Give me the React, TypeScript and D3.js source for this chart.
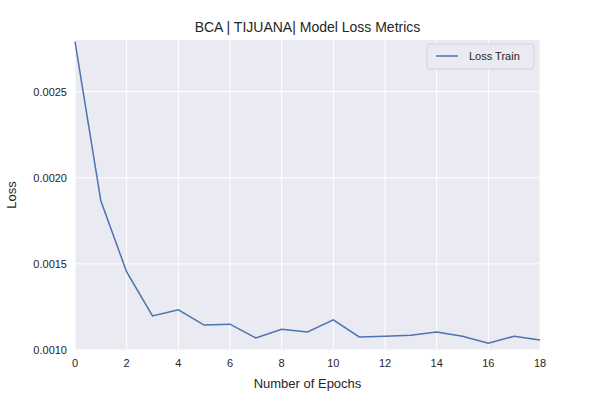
import { useEffect, useRef } from "react";
import * as d3 from "d3";

const epochs = d3.range(0, 19);
const lossTrain = [0.00279, 0.001866, 0.001453, 0.001198, 0.001233, 0.001145, 0.00115, 0.00107, 0.00112, 0.001105, 0.001175, 0.001076, 0.00108, 0.001085, 0.001105, 0.00108, 0.00104, 0.00108, 0.001058];
const xTicks = [0, 2, 4, 6, 8, 10, 12, 14, 16, 18];
const yTicks = [0.001, 0.0015, 0.002, 0.0025];

const App = () => {
  const svgRef = useRef<SVGSVGElement | null>(null);

  useEffect(() => {
    const svg = d3.select(svgRef.current);
    svg.selectAll("*").remove();
    const left = 75, right = 540, top = 40, bottom = 350;
    const font = "'Liberation Sans', Arial, sans-serif";

    const x = d3.scaleLinear().domain([0, 18]).range([left, right]);
    const y = d3.scaleLinear().domain([0.001, 0.0028]).range([bottom, top]);

    svg.append("rect").attr("width", 600).attr("height", 400).attr("fill", "#fff");
    svg.append("rect")
      .attr("x", left).attr("y", top)
      .attr("width", right - left).attr("height", bottom - top)
      .attr("fill", "#EAEAF2");

    const grid = svg.append("g").attr("stroke", "#fff").attr("stroke-width", 1);
    xTicks.forEach(t => grid.append("line").attr("x1", x(t)).attr("x2", x(t)).attr("y1", top).attr("y2", bottom));
    yTicks.forEach(t => grid.append("line").attr("x1", left).attr("x2", right).attr("y1", y(t)).attr("y2", y(t)));

    const labels = svg.append("g").style("font-family", font).style("font-size", "11px").attr("fill", "#262626");
    xTicks.forEach(t => labels.append("text").attr("x", x(t)).attr("y", bottom + 17).attr("text-anchor", "middle").text(t));
    yTicks.forEach(t => labels.append("text").attr("x", left - 8).attr("y", y(t) + 4).attr("text-anchor", "end").text(d3.format(".4f")(t)));

    const line = d3.line<number>().x((_, i) => x(epochs[i])).y(d => y(d));
    svg.append("path").datum(lossTrain)
      .attr("d", line).attr("fill", "none")
      .attr("stroke", "#4C72B0").attr("stroke-width", 1.5);

    svg.append("text").attr("x", (left + right) / 2).attr("y", 32)
      .attr("text-anchor", "middle").style("font-family", font).style("font-size", "14px").attr("fill", "#262626")
      .text("BCA | TIJUANA| Model Loss Metrics");
    svg.append("text").attr("x", (left + right) / 2).attr("y", 388)
      .attr("text-anchor", "middle").style("font-family", font).style("font-size", "13px").attr("fill", "#262626")
      .text("Number of Epochs");
    svg.append("text").attr("transform", `translate(16,${(top + bottom) / 2}) rotate(-90)`)
      .attr("text-anchor", "middle").style("font-family", font).style("font-size", "13px").attr("fill", "#262626")
      .text("Loss");

    const lg = svg.append("g");
    lg.append("rect").attr("x", 427).attr("y", 44).attr("width", 107).attr("height", 25).attr("rx", 3)
      .attr("fill", "#EAEAF2").attr("stroke", "#ccc").attr("stroke-width", 0.8);
    lg.append("line").attr("x1", 436).attr("x2", 458).attr("y1", 56).attr("y2", 56)
      .attr("stroke", "#4C72B0").attr("stroke-width", 1.5);
    lg.append("text").attr("x", 469).attr("y", 60).style("font-family", font).style("font-size", "11px")
      .attr("fill", "#262626").text("Loss Train");
  }, []);

  return <svg ref={svgRef} width={600} height={400} style={{ position: "absolute", left: 0, top: 0 }} />;
};

export default App;
